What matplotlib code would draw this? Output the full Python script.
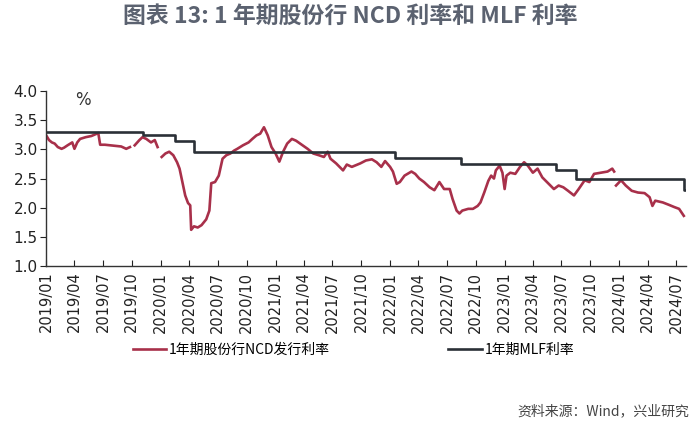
import matplotlib
matplotlib.use("Agg")
import matplotlib.pyplot as plt
import matplotlib.dates as mdates
import numpy as np
import pandas as pd

plt.rcParams['font.family'] = ['Noto Sans CJK SC', 'DejaVu Sans']

# 1年期股份行NCD发行利率 (NaN = gap in the series)
ncd_dates = [
    "2019-01-01", "2019-01-10", "2019-01-19", "2019-01-28", "2019-02-07", "2019-02-19",
    "2019-02-27", "2019-03-10", "2019-03-25", "2019-04-01", "2019-04-10", "2019-04-19",
    "2019-05-07", "2019-05-25", "2019-06-07", "2019-06-16", "2019-06-22", "2019-07-07",
    "2019-07-25", "2019-08-10", "2019-08-28", "2019-09-13", "2019-09-25", "2019-10-01",
    "2019-10-10", "2019-10-25", "2019-11-04", "2019-11-16", "2019-12-01", "2019-12-13",
    "2019-12-22", "2019-12-28", "2020-01-04", "2020-01-16", "2020-01-28", "2020-02-10",
    "2020-02-22", "2020-03-01", "2020-03-10", "2020-03-19", "2020-03-28", "2020-04-04",
    "2020-04-07", "2020-04-16", "2020-04-28", "2020-05-10", "2020-05-25", "2020-06-04",
    "2020-06-10", "2020-06-22", "2020-07-04", "2020-07-16", "2020-07-28", "2020-08-10",
    "2020-08-22", "2020-09-01", "2020-09-19", "2020-10-07", "2020-10-19", "2020-11-01",
    "2020-11-13", "2020-11-25", "2020-12-07", "2020-12-19", "2021-01-01", "2021-01-13",
    "2021-01-25", "2021-02-07", "2021-02-22", "2021-03-07", "2021-03-28", "2021-04-13",
    "2021-05-01", "2021-05-19", "2021-06-04", "2021-06-16", "2021-06-25", "2021-07-13",
    "2021-08-04", "2021-08-16", "2021-09-01", "2021-09-28", "2021-10-16", "2021-11-04",
    "2021-11-19", "2021-12-04", "2021-12-16", "2022-01-01", "2022-01-10", "2022-01-22",
    "2022-02-01", "2022-02-16", "2022-03-10", "2022-03-22", "2022-04-04", "2022-04-19",
    "2022-05-07", "2022-05-22", "2022-06-07", "2022-06-22", "2022-07-10", "2022-07-19",
    "2022-08-01", "2022-08-10", "2022-08-19", "2022-09-07", "2022-09-22", "2022-10-07",
    "2022-10-16", "2022-10-28", "2022-11-10", "2022-11-19", "2022-11-28", "2022-12-04",
    "2022-12-16", "2022-12-25", "2023-01-01", "2023-01-07", "2023-01-19", "2023-02-04",
    "2023-02-19", "2023-03-04", "2023-03-16", "2023-04-01", "2023-04-16", "2023-05-01",
    "2023-05-16", "2023-06-07", "2023-06-22", "2023-07-07", "2023-07-22", "2023-08-10",
    "2023-08-25", "2023-09-13", "2023-09-28", "2023-10-13", "2023-11-04", "2023-11-25",
    "2023-12-10", "2023-12-16", "2023-12-19", "2023-12-22", "2024-01-07", "2024-01-22",
    "2024-02-10", "2024-03-01", "2024-03-22", "2024-04-07", "2024-04-16", "2024-04-25",
    "2024-05-19", "2024-06-07", "2024-06-25", "2024-07-10", "2024-07-25",
]
ncd_rate = [
    3.24, 3.16, 3.12, 3.10, 3.04, 3.01,
    3.03, 3.07, 3.12, 3.01, 3.12, 3.18,
    3.21, 3.23, 3.26, 3.28, 3.08, 3.08,
    3.07, 3.06, 3.05, 3.01, 3.04, np.nan,
    3.07, 3.16, 3.21, 3.18, 3.12, 3.16,
    3.04, np.nan, 2.87, 2.93, 2.96, 2.90,
    2.78, 2.67, 2.44, 2.21, 2.08, 2.04,
    1.62, 1.68, 1.66, 1.70, 1.80, 1.95,
    2.42, 2.44, 2.55, 2.84, 2.90, 2.93,
    2.98, 3.01, 3.07, 3.12, 3.18, 3.24,
    3.27, 3.38, 3.24, 3.04, 2.93, 2.79,
    2.96, 3.10, 3.18, 3.15, 3.07, 3.01,
    2.93, 2.90, 2.87, 2.96, 2.84, 2.76,
    2.64, 2.74, 2.70, 2.76, 2.81, 2.83,
    2.78, 2.70, 2.80, 2.70, 2.62, 2.41,
    2.44, 2.55, 2.62, 2.58, 2.50, 2.44,
    2.35, 2.30, 2.44, 2.32, 2.32, 2.15,
    1.95, 1.90, 1.95, 1.98, 1.98, 2.03,
    2.09, 2.26, 2.46, 2.55, 2.50, 2.64,
    2.72, 2.60, 2.32, 2.55, 2.60, 2.58,
    2.70, 2.78, 2.72, 2.60, 2.67, 2.52,
    2.44, 2.32, 2.38, 2.35, 2.29, 2.21,
    2.32, 2.47, 2.44, 2.58, 2.60, 2.62,
    2.67, 2.62, np.nan, 2.38, 2.47, 2.38,
    2.29, 2.26, 2.25, 2.18, 2.03, 2.12,
    2.09, 2.05, 2.01, 1.98, 1.86,
]

# 1年期MLF利率 (step changes)
mlf_dates = ["2019-01-01", "2019-11-05", "2020-02-17", "2020-04-15", "2022-01-17",
             "2022-08-15", "2023-06-13", "2023-08-15", "2024-07-25", "2024-08-01"]
mlf_rate = [3.30, 3.25, 3.15, 2.95, 2.85, 2.75, 2.65, 2.50, 2.30, 2.30]

tick_dates = pd.date_range("2019-01-01", "2024-07-01", freq="3MS")

ncd_x = pd.to_datetime(ncd_dates)
mlf_x = pd.to_datetime(mlf_dates)

fig = plt.figure(figsize=(7, 4.36), dpi=100)
ax = fig.add_axes([0.066, 0.39, 0.914, 0.401])

ax.plot(ncd_x, ncd_rate, color="#a8304a", lw=1.9, label="1年期股份行NCD发行利率")
ax.step(mlf_x, mlf_rate, where="post", color="#2b3037", lw=1.9, label="1年期MLF利率")

ax.set_xlim(pd.Timestamp("2019-01-01"), pd.Timestamp("2024-08-01"))
ax.set_ylim(1.0, 4.0)
ax.set_yticks(np.arange(1.0, 4.01, 0.5))
ax.yaxis.set_major_formatter(matplotlib.ticker.FormatStrFormatter("%.1f"))
ax.set_xticks(tick_dates)
ax.xaxis.set_major_formatter(mdates.DateFormatter("%Y/%m"))
for lab in ax.get_xticklabels():
    lab.set_rotation(90)
    lab.set_family("DejaVu Sans")
for lab in ax.get_yticklabels():
    lab.set_family("DejaVu Sans")
ax.tick_params(axis="x", direction="in", length=4, labelsize=10.5, colors="#222222", pad=4)
ax.tick_params(axis="y", direction="out", length=4, labelsize=11, colors="#222222", pad=2)

for s in ["top", "right"]:
    ax.spines[s].set_visible(False)
for s in ["left", "bottom"]:
    ax.spines[s].set_color("#333333")
    ax.spines[s].set_linewidth(1.0)

ax.text(0.045, 1.0, "%", transform=ax.transAxes, fontsize=12, color="#333333",
        family="DejaVu Sans", va="top")

fig.text(0.5, 0.962, "图表 13: 1 年期股份行 NCD 利率和 MLF 利率", ha="center", va="center",
         fontsize=16.5, color="#5b6270", fontweight="bold")

fig.legend(loc="center", bbox_to_anchor=(0.505, 0.197), ncol=2, frameon=False,
           fontsize=10, handlelength=2.4, handletextpad=0.2, columnspacing=8.5)

fig.text(0.985, 0.057, "资料来源：Wind，兴业研究", ha="right", va="center",
         fontsize=10, color="#444444")

fig.savefig("out.png", dpi=100)
